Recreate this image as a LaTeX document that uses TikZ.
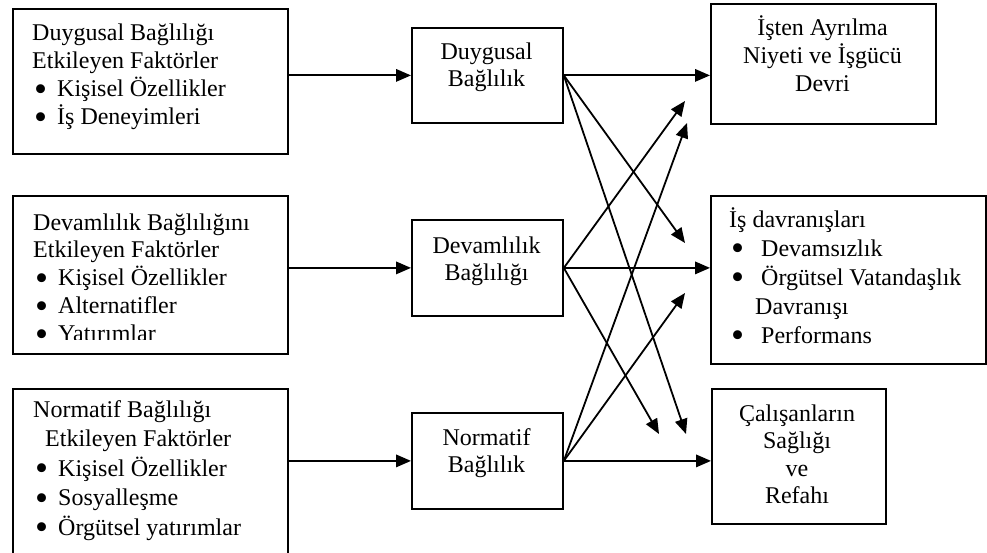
\documentclass[tikz,border=0pt]{standalone}
\usepackage{fontspec}
\usepackage{graphicx}
\setmainfont{Liberation Serif}
\usetikzlibrary{arrows.meta}
\newcommand\bl[1][25pt]{\makebox[#1][l]{\hspace{2pt}\raisebox{-0.2em}{\scalebox{1.55}{•}}}}
\begin{document}
\begin{tikzpicture}[x=1pt,y=-1pt,
  box/.style={draw, line width=1.8pt, anchor=north west, inner sep=0pt},
  txt/.style={inner sep=0pt, font=\fontsize{24}{28}\selectfont},
  arr/.style={line width=1.8pt, -{Triangle[length=15pt,width=12.5pt]}}]
\useasboundingbox (0,0) rectangle (987,553);
\clip (0,0) rectangle (987,553);
% left boxes
\node[box, minimum width=275pt, minimum height=145pt] (L1) at (12,8) {};
\node[box, minimum width=275pt, minimum height=158pt] (L2) at (12,195) {};
\node[box, minimum width=275pt, minimum height=200pt] (L3) at (12,388) {};
% middle boxes
\node[box, minimum width=151pt, minimum height=95pt] (M1) at (411,27) {};
\node[box, minimum width=151pt, minimum height=96pt] (M2) at (411,219) {};
\node[box, minimum width=151pt, minimum height=96pt] (M3) at (411,412) {};
% right boxes
\node[box, minimum width=225pt, minimum height=120pt] (R1) at (710,3) {};
\node[box, minimum width=275pt, minimum height=168pt] (R2) at (710,195) {};
\node[box, minimum width=174pt, minimum height=135pt] (R3) at (711,388) {};
% texts (anchored at the baseline of their last line)
\node[txt, anchor=base west, align=left] (tL1) at (32,125)
 {Duygusal Bağlılığı\\Etkileyen Faktörler\\\bl Kişisel Özellikler\\\bl İş Deneyimleri};
\begin{scope}
\clip (12,195) rectangle (287,339);
\node[txt, anchor=base west, align=left, font=\fontsize{24}{27.8}\selectfont] (tL2) at (33,341.2)
 {Devamlılık Bağlılığını\\Etkileyen Faktörler\\\bl Kişisel Özellikler\\\bl Alternatifler\\\bl Yatırımlar};
\end{scope}
\node[txt, anchor=base west, align=left, font=\fontsize{24}{29.5}\selectfont] (tL3) at (33,535)
 {Normatif Bağlılığı\\\hspace*{12pt}Etkileyen Faktörler\\\bl Kişisel Özellikler\\\bl Sosyalleşme\\\bl Örgütsel yatırımlar};
\node[txt, anchor=base, align=center, font=\fontsize{24}{27}\selectfont] (tM1) at (486.5,87) {Duygusal\\Bağlılık};
\node[txt, anchor=base, align=center, font=\fontsize{24}{27}\selectfont] (tM2) at (486.5,280) {Devamlılık\\Bağlılığı};
\node[txt, anchor=base, align=center, font=\fontsize{24}{27}\selectfont] (tM3) at (486.5,472) {Normatif\\Bağlılık};
\node[txt, anchor=base, align=center] (tR1) at (822.5,92) {İşten Ayrılma\\Niyeti ve İşgücü\\Devri};
\node[txt, anchor=base west, align=left, font=\fontsize{24}{29}\selectfont] (tR2) at (729,343)
 {İş davranışları\\\bl[26pt] Devamsızlık\\\bl[26pt] Örgütsel Vatandaşlık\\\hspace*{26pt}Davranışı\\\bl[26pt] Performans};
\node[txt, anchor=base, align=center, font=\fontsize{24}{27.5}\selectfont] (tR3) at (797,503.5)
 {Çalışanların\\Sağlığı\\ve\\Refahı};
% free arrow ends
\coordinate (e12) at (685,243);
\coordinate (e13) at (686,434);
\coordinate (e21) at (685,101);
\coordinate (e23) at (659,434);
\coordinate (e31) at (687,123);
\coordinate (e32) at (685,293);
% connectors
\draw[arr] (L1.east |- M1.west) -- (M1.west);
\draw[arr] (L2.east |- M2.west) -- (M2.west);
\draw[arr] (L3.east |- M3.west) -- (M3.west);
\draw[arr] (M1.east) -- (M1.east -| R1.west);
\draw[arr] (M2.east) -- (M2.east -| R2.west);
\draw[arr] (M3.east) -- (M3.east -| R3.west);
\draw[arr] (M1.east) -- (e12);
\draw[arr] (M1.east) -- (e13);
\draw[arr] (M2.east) -- (e21);
\draw[arr] (M2.east) -- (e23);
\draw[arr] (M3.east) -- (e31);
\draw[arr] (M3.east) -- (e32);
\end{tikzpicture}
\end{document}
